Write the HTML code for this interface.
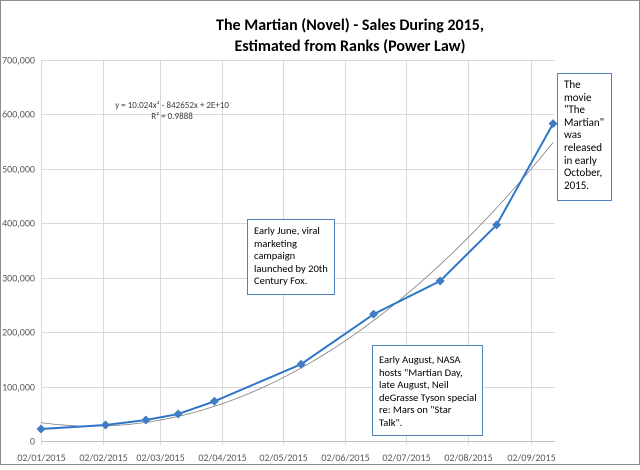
<!DOCTYPE html>
<html><head><meta charset="utf-8"><style>
html,body{margin:0;padding:0;background:#fff}
#chart{position:relative;width:640px;height:465px;font-family:Carlito,Calibri,"Liberation Sans",sans-serif}
.box{position:absolute;background:#fff;border:1px solid #4f81bd;font-family:Carlito,Calibri,"Liberation Sans",sans-serif;font-size:10.5px;line-height:12.6px;color:#000;box-sizing:border-box;white-space:nowrap;overflow:hidden}
</style></head><body>
<div id="chart">
<svg id="svg" width="640" height="465"></svg>
<div class="box" style="left:247px;top:219px;width:88px;height:76px;padding:5px 2px 0 6px">Early June, viral<br>marketing<br>campaign<br>launched by 20th<br>Century Fox.</div>
<div class="box" style="left:372px;top:345px;width:111px;height:91px;padding:8px 1px 0 6px">Early August, NASA<br>hosts "Martian Day,<br>late August, Neil<br>deGrasse Tyson special<br>re: Mars on "Star<br>Talk".</div>
<div class="box" style="left:557px;top:73px;width:55px;height:128px;padding:5px 2px 0 6px;font-size:11px">The<br>movie<br>"The<br>Martian"<br>was<br>released<br>in early<br>October,<br>2015.</div>
</div>
<script>
const dayOffsets=[0,32,52,68,86,129,165,198,226,254];
const sales=[22000,29500,38500,49500,73000,141000,233000,294000,397000,583000];
const xTickLabels=["02/01/2015","02/02/2015","02/03/2015","02/04/2015","02/05/2015","02/06/2015","02/07/2015","02/08/2015","02/09/2015"];
const xTickDays=[0,31,59,90,120,151,181,212,243];
const yTicks=[0,100000,200000,300000,400000,500000,600000,700000];

const NS="http://www.w3.org/2000/svg";
const svg=document.getElementById('svg');
const X0=41,PXD=2.016,Y0=441,PXV=381/700000,XR=555;
const xs=d=>X0+d*PXD, ys=v=>Y0-v*PXV;
const FF='Carlito,Calibri,"Liberation Sans",sans-serif';
function mk(t,a,p){const e=document.createElementNS(NS,t);for(const k in a)e.setAttribute(k,a[k]);(p||svg).appendChild(e);return e;}

const frame=mk('rect',{x:0.5,y:0.5,width:639,height:464,fill:'#fff',stroke:'#8c8c8c'});



const t=mk('text',{x:350,y:30,'text-anchor':'middle','font-size':16,'font-weight':'bold','font-family':FF});


mk('tspan',{x:350,dy:0},t).textContent='The Martian (Novel) - Sales During 2015,';
mk('tspan',{x:350,dy:21},t).textContent='Estimated from Ranks (Power Law)';

yTicks.forEach(v=>{
  const y=Math.round(ys(v))+0.5;
  const g=mk('line',{x1:X0,x2:XR,y1:y,y2:y,stroke:v===0?'#bfbfbf':'#d9d9d9'});
  
  
  const l=mk('text',{x:35,y:y+3,'text-anchor':'end','font-size':10,fill:'#595959','font-family':FF});
  
  
  l.textContent=v.toLocaleString('en-US');
});
xTickDays.forEach((d,i)=>{
  const x=Math.round(xs(d))+0.5;
  const g=mk('line',{x1:x,x2:x,y1:ys(700000),y2:Y0+4,stroke:'#d9d9d9'});
  
  
  const l=mk('text',{x:x,y:Y0+20,'text-anchor':'middle','font-size':10,fill:'#595959','font-family':FF});
  
  
  l.textContent=xTickLabels[i];
});

(function(){
  let S=[0,0,0,0,0],T=[0,0,0];
  dayOffsets.forEach((d,i)=>{for(let k=0;k<5;k++)S[k]+=Math.pow(d,k);for(let k=0;k<3;k++)T[k]+=sales[i]*Math.pow(d,k);});
  const M=[[S[0],S[1],S[2],T[0]],[S[1],S[2],S[3],T[1]],[S[2],S[3],S[4],T[2]]];
  for(let i=0;i<3;i++){for(let j=i+1;j<3;j++){const f=M[j][i]/M[i][i];for(let k=i;k<4;k++)M[j][k]-=f*M[i][k];}}
  const c=[0,0,0];for(let i=2;i>=0;i--){let s=M[i][3];for(let k=i+1;k<3;k++)s-=M[i][k]*c[k];c[i]=s/M[i][i];}
  let p='';const d0=dayOffsets[0],d1=dayOffsets[dayOffsets.length-1];
  for(let d=d0;d<=d1;d+=2){p+=(p?'L':'M')+xs(d).toFixed(1)+','+ys(c[0]+c[1]*d+c[2]*d*d).toFixed(1);}
  const tl=mk('path',{d:p,fill:'none',stroke:'#7f7f7f','stroke-width':0.8});
  
  
})();

const line=mk('polyline',{points:dayOffsets.map((d,i)=>xs(d)+','+ys(sales[i])).join(' '),fill:'none',stroke:'#2e75c8','stroke-width':2});


dayOffsets.forEach((d,i)=>{
  const x=xs(d),y=ys(sales[i]);
  const m=mk('polygon',{points:`${x},${y-4.5} ${x+4.5},${y} ${x},${y+4.5} ${x-4.5},${y}`,fill:'#3f7cc4'});
  
  
});

const eq=mk('text',{x:172,y:108,'text-anchor':'middle','font-size':9,fill:'#404040','font-family':FF});


eq.textContent='y = 10.024x² - 842652x + 2E+10';
const r2=mk('text',{x:172,y:119,'text-anchor':'middle','font-size':9,fill:'#404040','font-family':FF});


r2.textContent='R² = 0.9888';
</script>
</body></html>
